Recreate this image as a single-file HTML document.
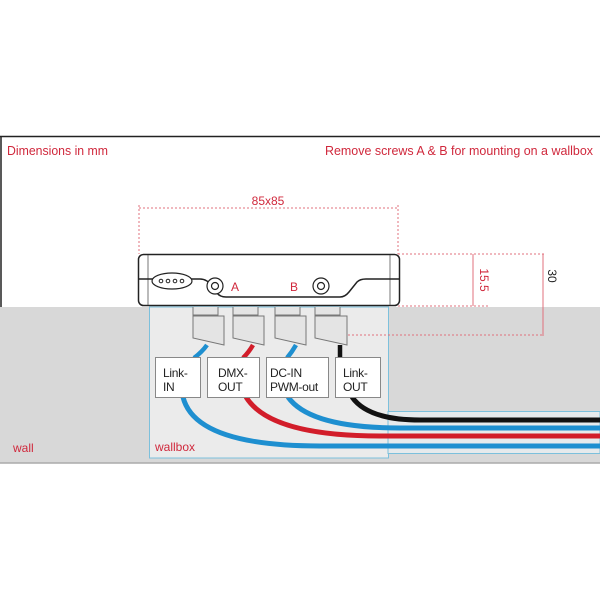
<!DOCTYPE html>
<html><head><style>
html,body{margin:0;padding:0;background:#fff;}
svg{display:block;}
text{font-family:"Liberation Sans",sans-serif;}
</style></head><body>
<svg width="600" height="600" viewBox="0 0 600 600" xmlns="http://www.w3.org/2000/svg">
<rect x="0" y="0" width="600" height="600" fill="#fff"/>
<rect x="0" y="307" width="600" height="156" fill="#d8d8d8"/>
<line x1="0" y1="463" x2="600" y2="463" stroke="#aaa" stroke-width="1.5"/>
<line x1="0" y1="136.5" x2="600" y2="136.5" stroke="#222" stroke-width="1.5"/>
<line x1="1" y1="136" x2="1" y2="307" stroke="#222" stroke-width="1.5"/>
<text x="7" y="155" font-size="13" fill="#d0283c" textLength="101" lengthAdjust="spacingAndGlyphs">Dimensions in mm</text>
<text x="325" y="155" font-size="13" fill="#d0283c" textLength="268" lengthAdjust="spacingAndGlyphs">Remove screws A &amp; B for mounting on a wallbox</text>
<rect x="149.5" y="307" width="239" height="151" fill="#ebebeb" stroke="#7cc0dc" stroke-width="1"/>
<rect x="388" y="411.5" width="212" height="42" fill="#e6eaec" stroke="#7cc0dc" stroke-width="1"/>
<text x="155" y="451" font-size="12" fill="#d0283c">wallbox</text>
<text x="13" y="452" font-size="12" fill="#d0283c">wall</text>
<g stroke="#e0707c" stroke-width="1" fill="none" stroke-dasharray="2,2">
<line x1="139" y1="205" x2="139" y2="254"/>
<line x1="398" y1="205" x2="398" y2="254"/>
<line x1="139" y1="208" x2="398" y2="208"/>
<line x1="398" y1="254" x2="545" y2="254"/>
<line x1="398" y1="306" x2="490" y2="306"/>
<line x1="320" y1="335" x2="543" y2="335"/>
</g>
<g stroke="#e0707c" stroke-width="1">
<line x1="473" y1="254" x2="473" y2="306"/>
<line x1="543" y1="254" x2="543" y2="336"/>
</g>
<text x="268" y="205" font-size="12" fill="#d0283c" text-anchor="middle">85x85</text>
<text x="0" y="0" font-size="12" fill="#d0283c" text-anchor="middle" transform="translate(480,280) rotate(90)">15.5</text>
<text x="0" y="0" font-size="12" fill="#222" text-anchor="middle" transform="translate(548,276) rotate(90)">30</text>
<rect x="138.5" y="254.5" width="261" height="51" rx="5" fill="#fff" stroke="#222" stroke-width="1.5"/>
<line x1="148" y1="255" x2="148" y2="305" stroke="#555" stroke-width="0.8"/>
<line x1="390" y1="255" x2="390" y2="305" stroke="#555" stroke-width="0.8"/>
<path d="M139 279 H200 Q207 279 212 286 L217 293 Q220 297 226 297 H340 Q345 297 349 292 L357 282 Q360 279 366 279 H400" fill="none" stroke="#222" stroke-width="1.5"/>
<ellipse cx="172" cy="281" rx="20" ry="8" fill="#fff" stroke="#222" stroke-width="1.2"/>
<g fill="#fff" stroke="#222" stroke-width="1"><circle cx="161" cy="281" r="1.8"/><circle cx="168" cy="281" r="1.8"/><circle cx="175" cy="281" r="1.8"/><circle cx="182" cy="281" r="1.8"/></g>
<circle cx="215" cy="286" r="8" fill="#fff" stroke="#222" stroke-width="1.2"/><circle cx="215" cy="286" r="3.5" fill="#fff" stroke="#222" stroke-width="1.2"/>
<circle cx="321" cy="286" r="8" fill="#fff" stroke="#222" stroke-width="1.2"/><circle cx="321" cy="286" r="3.5" fill="#fff" stroke="#222" stroke-width="1.2"/>
<text x="231" y="291" font-size="12" fill="#d0283c">A</text>
<text x="290" y="291" font-size="12" fill="#d0283c">B</text>
<g fill="#e4e4e4" stroke="#777" stroke-width="1">
<path d="M193 307 V315 H218 V307"/><path d="M193 316 H224 V345 L193 338 Z"/>
<path d="M233 307 V315 H258 V307"/><path d="M233 316 H264 V345 L233 338 Z"/>
<path d="M275 307 V315 H300 V307"/><path d="M275 316 H306 V345 L275 338 Z"/>
<path d="M315 307 V315 H340 V307"/><path d="M315 316 H347 V345 L315 338 Z"/>
</g>
<g fill="none" stroke-width="4.5">
<path d="M207 345 Q202 352 194 358" stroke="#1e8fd0"/>
<path d="M253 345 Q249 352 243 358" stroke="#d21d2a"/>
<path d="M296 345 Q292 352 287 358" stroke="#1e8fd0"/>
<path d="M340 345 V358" stroke="#111"/>
</g>
<g fill="none" stroke-width="5">
<path d="M352 397 Q368 420 420 420 H600" stroke="#111"/>
<path d="M288 397 Q310 428 400 428 H600" stroke="#1e8fd0"/>
<path d="M246 397 Q270 436 380 436 H600" stroke="#d21d2a"/>
<path d="M183 397 Q195 446 320 446 H600" stroke="#1e8fd0"/>
</g>
<g fill="#fff" stroke="#888" stroke-width="1">
<rect x="155.5" y="357.5" width="45" height="40"/>
<rect x="207.5" y="357.5" width="52" height="40"/>
<rect x="266.5" y="357.5" width="62" height="40"/>
<rect x="335.5" y="357.5" width="45" height="40"/>
</g>
<g font-size="12" fill="#222" letter-spacing="-0.3">
<text x="163" y="377">Link-</text><text x="163" y="391">IN</text>
<text x="218" y="377">DMX-</text><text x="218" y="391">OUT</text>
<text x="270" y="377">DC-IN</text><text x="270" y="391">PWM-out</text>
<text x="343" y="377">Link-</text><text x="343" y="391">OUT</text>
</g>
</svg>
</body></html>
